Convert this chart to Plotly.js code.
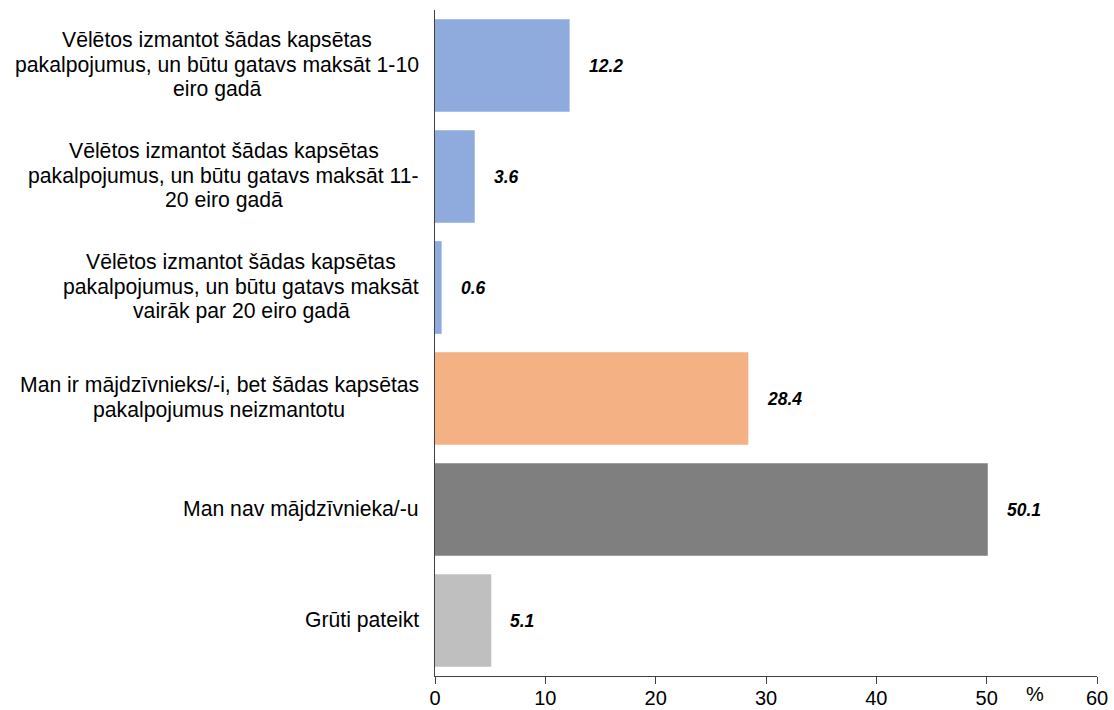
<!DOCTYPE html>
<html>
<head>
<meta charset="utf-8">
<script src="https://cdn.plot.ly/plotly-3.0.1.min.js"></script>
<style>html,body{margin:0;padding:0;background:#fff;}#chart{width:1114px;height:710px;}</style>
</head>
<body>
<div id="chart"></div>
<script>
const categories = [
  "Vēlētos izmantot šādas kapsētas<br>pakalpojumus, un būtu gatavs maksāt 1-10<br>eiro gadā",
  "Vēlētos izmantot šādas kapsētas<br>pakalpojumus, un būtu gatavs maksāt 11-<br>20 eiro gadā",
  "Vēlētos izmantot šādas kapsētas<br>pakalpojumus, un būtu gatavs maksāt<br>vairāk par 20 eiro gadā",
  "Man ir mājdzīvnieks/-i, bet šādas kapsētas<br>pakalpojumus neizmantotu",
  "Man nav mājdzīvnieka/-u",
  "Grūti pateikt"
];
const values = [12.2, 3.6, 0.6, 28.4, 50.1, 5.1];
const barColors = ["#8FAADC", "#8FAADC", "#8FAADC", "#F4B183", "#7F7F7F", "#BFBFBF"];
const xTicks = [0, 10, 20, 30, 40, 50, 60];
const unitLabel = "%";

const FONT = "Liberation Sans, Arial, sans-serif";
const LABEL_SIZE = 21.2;
const LINE_H = 24.5;

const canvas = document.createElement("canvas");
const ctx = canvas.getContext("2d");
ctx.font = LABEL_SIZE + "px 'Liberation Sans', Arial, sans-serif";

const trace = {
  type: "bar",
  orientation: "h",
  x: values,
  y: categories,
  marker: {color: barColors},
  hoverinfo: "none"
};

const annotations = [];
categories.forEach((c, i) => {
  const lines = c.split("<br>");
  const maxW = Math.max(...lines.map(l => ctx.measureText(l).width));
  const n = lines.length;
  lines.forEach((line, k) => {
    annotations.push({
      xref: "paper", yref: "y", x: 0, y: c, xanchor: "center", yanchor: "middle",
      xshift: -(16 + maxW / 2), yshift: ((n - 1) / 2 - k) * LINE_H + 1,
      text: line, showarrow: false,
      font: {family: FONT, size: LABEL_SIZE, color: "#000"}
    });
  });
  annotations.push({
    xref: "x", yref: "y", x: values[i], y: c, xanchor: "left", yanchor: "middle",
    xshift: 17, text: "<b><i>" + values[i].toFixed(1) + "</i></b>", showarrow: false,
    font: {family: FONT, size: 17.5, color: "#000"}
  });
});
annotations.push({
  xref: "paper", yref: "paper", x: 0.906, y: 0, xanchor: "center", yanchor: "top",
  yshift: -5, text: unitLabel, showarrow: false,
  font: {family: FONT, size: 20, color: "#000"}
});

const layout = {
  width: 1114, height: 710,
  margin: {l: 435, r: 17, t: 10, b: 34},
  paper_bgcolor: "#fff", plot_bgcolor: "#fff",
  showlegend: false,
  bargap: 0.165,
  xaxis: {
    range: [0, 60], tickvals: xTicks, ticks: "outside", ticklen: 7, tickcolor: "#404040",
    ticklabelstandoff: -3,
    showline: true, linecolor: "#404040", linewidth: 1.3, showgrid: false, zeroline: false,
    tickfont: {family: FONT, size: 20, color: "#000"}
  },
  yaxis: {
    autorange: "reversed", showticklabels: false, ticks: "", showline: true,
    linecolor: "#404040", linewidth: 1.3, showgrid: false, zeroline: false
  },
  annotations: annotations
};

Plotly.newPlot("chart", [trace], layout, {staticPlot: true, displayModeBar: false});
</script>
</body>
</html>
